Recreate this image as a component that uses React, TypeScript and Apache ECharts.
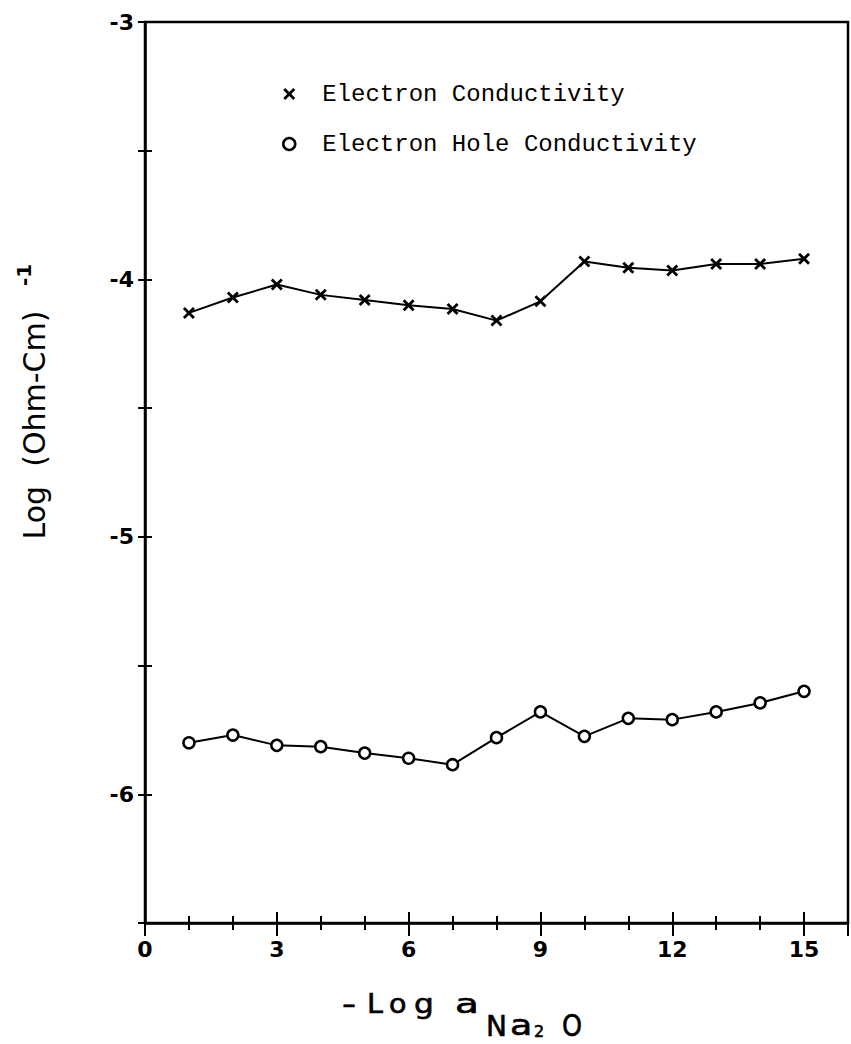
import React, { useEffect, useRef } from "react";
import * as echarts from "echarts";

// ---- data ----
const activityX = [1, 2, 3, 4, 5, 6, 7, 8, 9, 10, 11, 12, 13, 14, 15];
const electronConductivity = [
  -4.13, -4.07, -4.02, -4.06, -4.08, -4.1, -4.115, -4.16, -4.085, -3.93, -3.955, -3.965, -3.94, -3.94, -3.92,
];
const holeConductivity = [
  -5.8, -5.77, -5.81, -5.815, -5.84, -5.86, -5.885, -5.78, -5.68, -5.775, -5.705, -5.71, -5.68, -5.645, -5.6,
];
const seriesNames = ["Electron Conductivity", "Electron Hole Conductivity"];
const xLabelValues = [0, 3, 6, 9, 12, 15];
const yLabelValues = [-3, -4, -5, -6];

const X_SYMBOL =
  "path://M2,0 L6,4 L10,0 L12,2 L8,6 L12,10 L10,12 L6,8 L2,12 L0,10 L4,6 L0,2 Z";

const tickFont = { color: "#000", fontSize: 22, fontWeight: "bold", fontFamily: "DejaVu Sans" };

function xAxisDef(interval: number, inside: boolean, length: number, primary: boolean) {
  return {
    type: "value",
    min: 0,
    max: 16,
    interval,
    position: "bottom",
    axisLine: { show: primary, lineStyle: { color: "#000", width: 2.5 } },
    axisTick: { show: true, inside, length, lineStyle: { color: "#000", width: 2 } },
    axisLabel: primary
      ? {
          show: true,
          margin: 15,
          ...tickFont,
          formatter: (v: number) => (xLabelValues.indexOf(v) >= 0 ? String(v) : ""),
        }
      : { show: false },
    splitLine: { show: false },
  };
}

function yAxisDef(inside: boolean, primary: boolean) {
  return {
    type: "value",
    min: -6.5,
    max: -3,
    interval: 0.5,
    position: "left",
    axisLine: { show: primary, lineStyle: { color: "#000", width: 2.5 } },
    axisTick: { show: true, inside, length: 7, lineStyle: { color: "#000", width: 2 } },
    axisLabel: primary
      ? {
          show: true,
          margin: 11,
          ...tickFont,
          formatter: (v: number) => (yLabelValues.indexOf(v) >= 0 ? String(v) : ""),
        }
      : { show: false },
    splitLine: { show: false },
  };
}

function charText(t: string, x: number, y: number, size: number, sx: number) {
  return {
    type: "text",
    x,
    y,
    scaleX: sx,
    style: {
      text: t,
      fontSize: size,
      fontFamily: "DejaVu Sans",
      fill: "#000",
      stroke: "#000",
      lineWidth: 0.6,
      textAlign: "left",
      align: "left",
      textVerticalAlign: "middle",
      verticalAlign: "middle",
    },
  };
}

export default function App() {
  const ref = useRef<HTMLDivElement>(null);
  useEffect(() => {
    document.body.style.margin = "0";
    if (!ref.current) return;
    const chart = echarts.init(ref.current, undefined, { renderer: "svg" });
    const option = {
      animation: false,
      backgroundColor: "#fff",
      grid: {
        left: 145,
        right: 2,
        top: 22,
        bottom: 121,
        show: true,
        borderColor: "#000",
        borderWidth: 2.5,
      },
      xAxis: [
        xAxisDef(1, false, 7, true),
        xAxisDef(1, true, 7, false),
        xAxisDef(3, false, 13, false),
        xAxisDef(3, true, 11, false),
      ],
      yAxis: [yAxisDef(false, true), yAxisDef(true, false)],
      legend: {
        orient: "vertical",
        left: 277,
        top: 77,
        itemWidth: 12,
        itemHeight: 12,
        itemGap: 26,
        textStyle: {
          color: "#000",
          fontSize: 24,
          fontFamily: "Liberation Mono",
          lineHeight: 24,
          padding: [0, 0, 0, 22],
        },
        data: [
          { name: seriesNames[0], icon: X_SYMBOL, itemStyle: { color: "#000" } },
          {
            name: seriesNames[1],
            icon: "circle",
            itemStyle: { color: "#fff", borderColor: "#000", borderWidth: 2.5 },
          },
        ],
      },
      series: [
        {
          name: seriesNames[0],
          type: "line",
          xAxisIndex: 0,
          yAxisIndex: 0,
          data: activityX.map((x, i) => [x, electronConductivity[i]]),
          symbol: X_SYMBOL,
          symbolSize: 12,
          itemStyle: { color: "#000" },
          lineStyle: { color: "#000", width: 2 },
        },
        {
          name: seriesNames[1],
          type: "line",
          xAxisIndex: 0,
          yAxisIndex: 0,
          data: activityX.map((x, i) => [x, holeConductivity[i]]),
          symbol: "circle",
          symbolSize: 11,
          showAllSymbol: true,
          itemStyle: { color: "#fff", borderColor: "#000", borderWidth: 2.5 },
          lineStyle: { color: "#000", width: 2 },
        },
      ],
      graphic: [
        {
          type: "text",
          x: 34,
          y: 425,
          rotation: Math.PI / 2,
          style: {
            text: "Log  (Ohm-Cm)",
            fontSize: 30,
            fontFamily: "DejaVu Sans",
            fill: "#000",
            textAlign: "center",
            align: "center",
            textVerticalAlign: "middle",
            verticalAlign: "middle",
          },
        },
        {
          type: "text",
          x: 24,
          y: 275,
          rotation: Math.PI / 2,
          style: {
            text: "-1",
            fontSize: 20,
            fontWeight: "bold",
            fontFamily: "DejaVu Sans",
            fill: "#000",
            textAlign: "center",
            align: "center",
            textVerticalAlign: "middle",
            verticalAlign: "middle",
          },
        },
        charText("-", 342, 1004, 26, 1.5),
        charText("L", 367, 1004, 26, 1.1),
        charText("o", 389, 1004, 26, 1.1),
        charText("g", 414, 1004, 26, 1.2),
        charText("a", 455, 1004, 26, 1.5),
        charText("N", 486, 1026, 28, 1.0),
        charText("a", 510, 1026, 28, 1.3),
        charText("2", 534, 1031, 16, 1.0),
        charText("O", 562, 1026, 30, 0.85),
      ],
    };
    chart.setOption(option as any);
    return () => chart.dispose();
  }, []);
  return <div ref={ref} style={{ width: 851, height: 1044 }} />;
}
